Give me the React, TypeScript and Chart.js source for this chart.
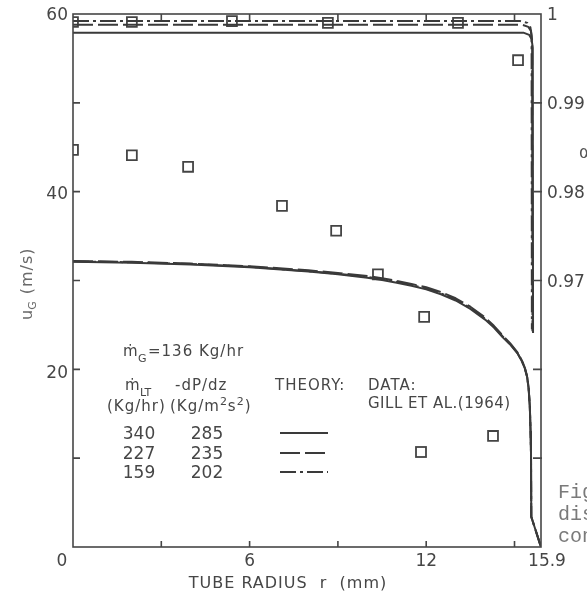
import React, { useEffect, useRef } from "react";
import { Chart, registerables } from "chart.js";

Chart.register(...registerables);

// ---------------- data ----------------
// gas velocity profiles u_G (m/s) vs tube radius r (mm)
const curveRadius = [0, 2, 4, 6, 8, 9, 10, 10.5, 11, 11.5, 12, 12.5, 13, 13.5, 14, 14.3, 14.6, 14.85, 15.1, 15.25, 15.35, 15.43, 15.48, 15.52, 15.545, 15.56, 15.57, 15.9];
const velocity340 = [32.1, 32.0, 31.8, 31.5, 31.0, 30.7, 30.3, 30.05, 29.75, 29.4, 29.0, 28.45, 27.75, 26.8, 25.6, 24.7, 23.6, 22.8, 21.8, 20.9, 20.1, 19.1, 17.8, 15.8, 13.0, 10.6, 3.4, 0];
const velocity227 = [32.2, 32.1, 31.9, 31.6, 31.15, 30.85, 30.5, 30.25, 29.95, 29.6, 29.25, 28.7, 28.0, 27.05, 25.85, 24.9, 23.8, 22.95, 21.9, 21.0, 20.2, 19.2, 17.9, 15.9, 13.1, 10.7, 3.4, 0];
const velocity159 = [32.15, 32.05, 31.85, 31.55, 31.05, 30.75, 30.4, 30.15, 29.85, 29.5, 29.1, 28.55, 27.85, 26.9, 25.7, 24.8, 23.7, 22.85, 21.85, 20.95, 20.15, 19.15, 17.85, 15.85, 13.05, 10.65, 3.4, 0];

// void fraction profiles alpha vs r
const alphaRadius340 = [0, 15.3, 15.5, 15.58, 15.62, 15.63];
const alpha340 = [0.9979, 0.9979, 0.99765, 0.9972, 0.9962, 0.9641];
const alphaRadius227 = [0, 15.25, 15.47, 15.56, 15.6, 15.61];
const alpha227 = [0.9988, 0.9988, 0.99855, 0.9981, 0.997, 0.9643];
const alphaRadius159 = [0, 15.2, 15.44, 15.54, 15.58, 15.59];
const alpha159 = [0.9992, 0.9992, 0.999, 0.9985, 0.9975, 0.9645];

// Gill et al. (1964) data
const dataRadiusU = [0, 2.0, 3.91, 7.1, 8.94, 10.36, 11.93, 14.27];
const dataU = [44.7, 44.1, 42.8, 38.4, 35.6, 30.7, 25.9, 12.5];
const dataRadiusAlpha = [0, 2.0, 5.4, 8.66, 13.08, 15.12];
const dataAlpha = [0.9991, 0.9991, 0.9992, 0.999, 0.999, 0.9948];

// ticks
const leftMinorTicks = [10, 20, 30, 40, 50];
const leftTickLabels = [60, 40, 20];
const rightMinorTicks = [0.95, 0.96, 0.97, 0.98, 0.99];
const rightTickLabels = [1, 0.99, 0.98, 0.97];
const radiusTicks = [3, 6, 9, 12, 15];
const radiusTickLabels = [0, 6, 12, 15.9];

// legend table
const liquidRates = ["340", "227", "159"];
const pressureGradients = ["285", "235", "202"];

const INK = "#464646";
const LINE = "#3a3a3a";
const FONT = '"DejaVu Sans", sans-serif';
const SOLID: number[] = [];
const DASHED = [20, 5];
const DASHDOT = [16, 4, 3, 4];
const dashes = [SOLID, DASHED, DASHDOT];

function txt(
  ctx: CanvasRenderingContext2D,
  s: string,
  x: number,
  y: number,
  size: number,
  opts: { align?: CanvasTextAlign; color?: string; spacing?: number; family?: string; baseline?: CanvasTextBaseline } = {}
) {
  ctx.save();
  ctx.font = `${size}px ${opts.family || FONT}`;
  ctx.fillStyle = opts.color || INK;
  ctx.textAlign = opts.align || "left";
  ctx.textBaseline = opts.baseline || "alphabetic";
  if ("letterSpacing" in ctx) (ctx as any).letterSpacing = `${opts.spacing || 0}px`;
  ctx.fillText(s, x, y);
  const w = ctx.measureText(s).width;
  ctx.restore();
  return w;
}

const decorations = {
  id: "decorations",
  afterDraw(chart: any) {
    const { ctx, chartArea: a, scales } = chart;
    const xs = scales.x, ys = scales.y, y2 = scales.y2;
    ctx.save();
    ctx.strokeStyle = INK;
    ctx.lineWidth = 1.6;
    ctx.strokeRect(a.left, a.top, a.right - a.left, a.bottom - a.top);
    ctx.beginPath();
    leftMinorTicks.forEach((v) => {
      const py = ys.getPixelForValue(v);
      ctx.moveTo(a.left, py);
      ctx.lineTo(a.left + 7, py);
    });
    rightMinorTicks.forEach((v) => {
      const py = y2.getPixelForValue(v);
      ctx.moveTo(a.right - 8, py);
      ctx.lineTo(a.right + 1, py);
    });
    radiusTicks.forEach((v) => {
      const px = xs.getPixelForValue(v);
      ctx.moveTo(px, a.top);
      ctx.lineTo(px, a.top + 6);
      ctx.moveTo(px, a.bottom);
      ctx.lineTo(px, a.bottom - 6);
    });
    ctx.stroke();

    // tick labels
    leftTickLabels.forEach((v, i) => {
      txt(ctx, String(v), a.left - 5, ys.getPixelForValue(v) + 2 + i, 17, { align: "right", baseline: "middle" });
    });
    rightTickLabels.forEach((v) => {
      txt(ctx, String(v), a.right + 6, y2.getPixelForValue(v) + 2, 17, { baseline: "middle" });
    });
    radiusTickLabels.forEach((v, i) => {
      const last = i === radiusTickLabels.length - 1;
      const px = xs.getPixelForValue(v) + (i === 0 ? -11 : last ? 6 : 0);
      txt(ctx, String(v), px, a.bottom + 15, 17, { align: "center", baseline: "middle" });
    });

    // axis titles
    txt(ctx, "TUBE RADIUS  r  (mm)", 288, a.bottom + 41, 16, { align: "center", spacing: 1 });
    ctx.save();
    ctx.translate(32, 0);
    ctx.rotate(-Math.PI / 2);
    let p = -320;
    p += txt(ctx, "u", p, 0, 16, { color: "#6a6a6a" });
    p += txt(ctx, "G", p, 4, 11, { color: "#6a6a6a" });
    txt(ctx, "(m/s)", p + 7, 0, 16, { color: "#6a6a6a", spacing: 1 });
    ctx.restore();
    txt(ctx, "α", 579, 158, 17, { color: "#555" });

    // legend block
    txt(ctx, "ṁ", 123, 356, 15);
    txt(ctx, "G", 138, 362, 11);
    txt(ctx, "=136 Kg/hr", 148, 356, 15, { spacing: 1 });
    txt(ctx, "ṁ", 125, 390, 15);
    txt(ctx, "LT", 140, 396, 11);
    txt(ctx, "-dP/dz", 175, 390, 15, { spacing: 1 });
    txt(ctx, "THEORY:", 275, 390, 15, { spacing: 1 });
    txt(ctx, "DATA:", 368, 390, 15, { spacing: 1 });
    txt(ctx, "GILL ET AL.(1964)", 368, 408, 15, { spacing: 0.5 });
    txt(ctx, "(Kg/hr)", 107, 411, 15, { spacing: 1 });
    let q = 170;
    q += txt(ctx, "(Kg/m", q, 411, 15, { spacing: 1 });
    q += txt(ctx, "2", q, 405, 11);
    q += txt(ctx, "s", q + 1, 411, 15, { spacing: 1 }) + 1;
    q += txt(ctx, "2", q, 405, 11);
    txt(ctx, ")", q + 1, 411, 15);

    const rowsY = [433, 453, 472];
    liquidRates.forEach((s, i) => {
      txt(ctx, s, 139, rowsY[i] + 6, 17, { align: "center" });
      txt(ctx, pressureGradients[i], 207, rowsY[i] + 6, 17, { align: "center" });
      ctx.save();
      ctx.strokeStyle = LINE;
      ctx.lineWidth = 2;
      ctx.setLineDash(dashes[i]);
      ctx.beginPath();
      ctx.moveTo(280, rowsY[i]);
      ctx.lineTo(328, rowsY[i]);
      ctx.stroke();
      ctx.restore();
    });
    ctx.lineWidth = 1.8;
    ctx.strokeStyle = "#444";
    ctx.strokeRect(416, 447, 10, 10);

    // cut-off caption from the page
    const mono = '"Liberation Mono", monospace';
    txt(ctx, "Fig.", 558, 498, 20, { family: mono, color: "#7a7a7a" });
    txt(ctx, "dis", 558, 520, 20, { family: mono, color: "#7a7a7a" });
    txt(ctx, "con", 558, 542, 20, { family: mono, color: "#7a7a7a" });
    ctx.restore();
  },
};

const pts = (xs: number[], ys: number[]) => xs.map((x, i) => ({ x, y: ys[i] }));

export default function App() {
  const ref = useRef<HTMLCanvasElement | null>(null);
  useEffect(() => {
    if (!ref.current) return;
    const curve = (data: any, dash: number[], axis: string) => ({
      data,
      yAxisID: axis,
      borderColor: LINE,
      borderWidth: 2,
      borderDash: dash,
      pointRadius: 0,
      fill: false,
      tension: 0,
      borderJoinStyle: "round",
    });
    const chart = new Chart(ref.current, {
      type: "line",
      data: {
        datasets: [
          curve(pts(curveRadius, velocity340), SOLID, "y"),
          curve(pts(curveRadius, velocity227), DASHED, "y"),
          curve(pts(curveRadius, velocity159), DASHDOT, "y"),
          curve(pts(alphaRadius340, alpha340), SOLID, "y2"),
          curve(pts(alphaRadius227, alpha227), DASHED, "y2"),
          curve(pts(alphaRadius159, alpha159), DASHDOT, "y2"),
          {
            data: pts(dataRadiusU, dataU),
            yAxisID: "y",
            showLine: false,
            pointStyle: "rect",
            pointRadius: 7,
            borderColor: "#444",
            borderWidth: 1.8,
            backgroundColor: "rgba(0,0,0,0)",
          },
          {
            data: pts(dataRadiusAlpha, dataAlpha),
            yAxisID: "y2",
            showLine: false,
            pointStyle: "rect",
            pointRadius: 7,
            borderColor: "#444",
            borderWidth: 1.8,
            backgroundColor: "rgba(0,0,0,0)",
          },
        ] as any,
      },
      options: {
        animation: false,
        responsive: false,
        events: [],
        layout: { padding: { left: 73, right: 46, top: 14, bottom: 52 } },
        plugins: { legend: { display: false }, tooltip: { enabled: false } },
        scales: {
          x: { type: "linear", min: 0, max: 15.9, display: false },
          y: { type: "linear", min: 0, max: 60, display: false },
          y2: { type: "linear", min: 0.94, max: 1, display: false, position: "right" },
        },
      },
      plugins: [decorations],
    } as any);
    return () => chart.destroy();
  }, []);
  return (
    <div style={{ position: "absolute", left: 0, top: 0, width: 587, height: 599, background: "#fff" }}>
      <canvas ref={ref} width={587} height={599} style={{ display: "block" }} />
    </div>
  );
}
